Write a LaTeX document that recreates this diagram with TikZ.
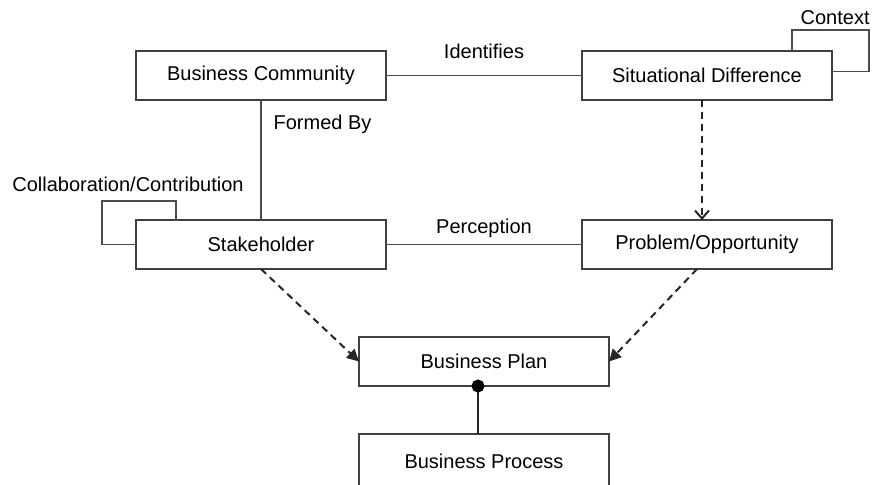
\documentclass[tikz,border=0pt]{standalone}
\usepackage{fontspec}
\setmainfont{Liberation Sans}
\usetikzlibrary{positioning,arrows.meta}

\begin{document}
\begin{tikzpicture}[
	x=0.5pt, y=-0.5pt,
	entity/.style = {
		draw=black!75, rectangle, line width=0.8pt, align=center,
		minimum width=125pt, minimum height=24.5pt,
		font=\normalsize, inner sep=0pt, outer sep=0pt},
	tag/.style = {inner sep=0pt, font=\normalsize},
	rel/.style = {draw=black!70, line width=0.6pt},
	flow/.style = {draw=black!85, line width=1pt, dash pattern=on 3.5pt off 2.5pt},
	openhead/.style = {-{Straight Barb[length=4pt,width=7pt]}},
	fullhead/.style = {-{Triangle[length=6pt,width=6pt]}}
]
\useasboundingbox (0,0) rectangle (877,484);
\clip (0,0) rectangle (877,484);

\node (bc)  [entity] at (261,75.5)    {Business Community};
\node (sd)  [entity, right=98pt of bc] {Situational Difference};
\node (sh)  [entity, below=60pt of bc] {Stakeholder};
\node (po)  [entity, below=60pt of sd] {Problem/Opportunity};
\node (bp)  [entity] at (484,361.5)   {Business Plan};
\node (bpr) [entity, minimum height=27pt, below=24pt of bp] {Business Process};

% associations
\draw[rel] (bc) -- node[tag, above=8pt] {Identifies} (sd);
\draw[rel] (sh) -- node[tag, above=3pt] {Perception} (po);
\draw[rel] (bc) -- node[tag, pos=0.2, right=6pt] {Formed By} (sh);

% self loops
\draw[rel] ([xshift=20pt]sh.north west) |- (102,201) |- (sh.west);
\node (collab) [tag, anchor=west] at (12,184) {Collaboration/Contribution};
\draw[rel] ([xshift=-20pt]sd.north east) |- (869,30) |- ([yshift=2pt]sd.east);
\node (ctx) [tag, anchor=east] at (870,18) {Context};

% dependencies
\draw[flow, openhead] ([xshift=-2.5pt]sd.south) -- ([xshift=-2.5pt]po.north);
\draw[flow, fullhead] (sh.south) -- (bp.west);
\draw[flow, fullhead] ([xshift=-5pt]po.south) -- (bp.east);

% composition
\draw[draw=black!85, line width=0.9pt, {Circle[length=6.5pt,black]}-, shorten <=-3.25pt]
	([xshift=-3pt]bp.south) -- ([xshift=-3pt]bpr.north);
\end{tikzpicture}
\end{document}
